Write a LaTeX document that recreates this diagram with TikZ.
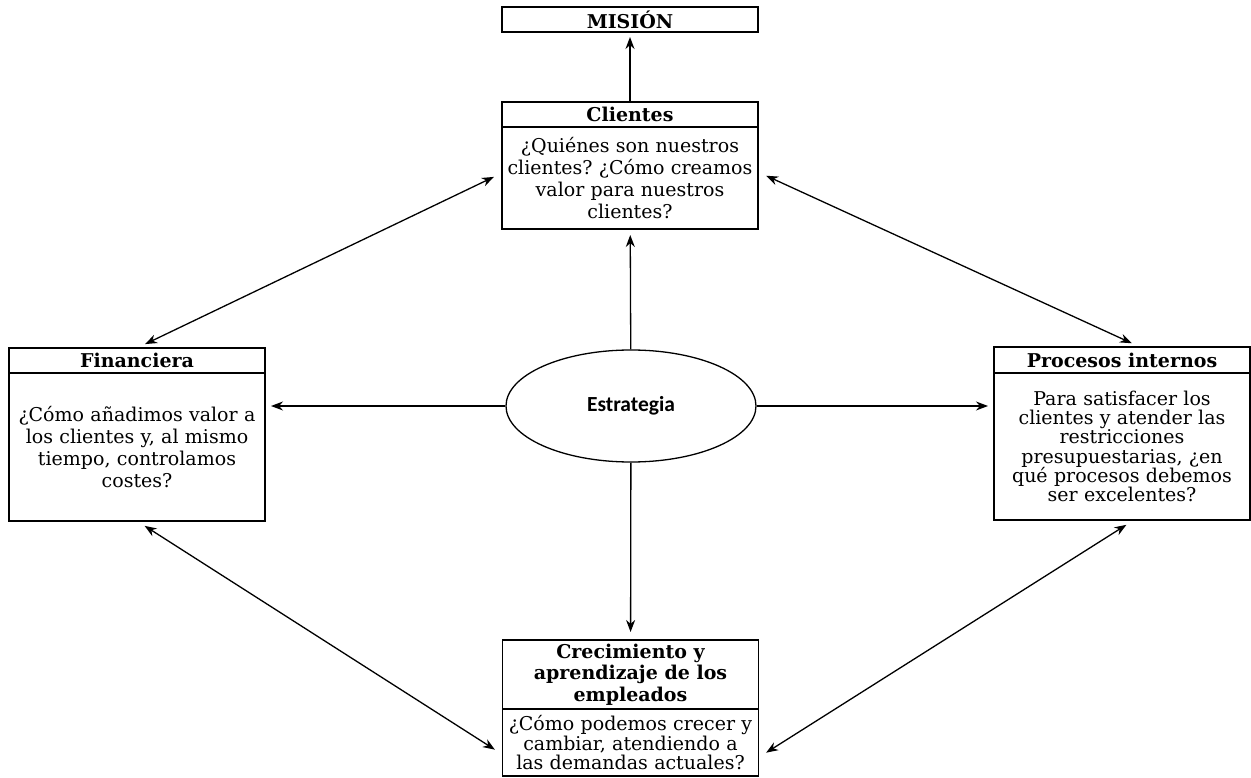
\documentclass[tikz,border=0pt]{standalone}
\usepackage{fontspec}
\setmainfont{DejaVu Serif}
\newfontfamily\calibri{Carlito}
\usetikzlibrary{positioning,shapes.geometric,arrows.meta}
\frenchspacing

\begin{document}
\begin{tikzpicture}[x=1pt, y=-1pt,
  tip/.tip={Stealth[length=12pt,width=9pt]},
  hdr/.style={draw, line width=1.4pt, minimum width=256pt, inner sep=0pt, outer sep=0pt, align=center, font=\fontsize{19}{21.7}\selectfont\bfseries},
  txt/.style={draw, line width=1.4pt, minimum width=256pt, text width=256pt, inner sep=0pt, outer sep=0pt, align=center, font=\fontsize{19}{21.7}\selectfont},
  link/.style={line width=1.3pt, -tip, shorten >=6pt},
  both/.style={line width=1.3pt, tip-tip, shorten >=9pt, shorten <=9pt}]
\useasboundingbox (0,0) rectangle (1251,778);

\node[hdr, minimum height=25pt] (mis) at (630,19.5) {MISIÓN};

\node[hdr, minimum height=25pt] (cli) at (630,114.5) {Clientes};
\node[txt, minimum height=102pt, below=0pt of cli] (clitxt) {¿Quiénes son nuestros\\clientes? ¿Cómo creamos\\valor para nuestros\\clientes?};

\node[hdr, minimum height=25pt] (fin) at (137,360.5) {Financiera};
\node[txt, minimum height=148pt, below=0pt of fin] (fintxt) {¿Cómo añadimos valor a\\los clientes y, al mismo\\tiempo, controlamos\\costes?};

\node[hdr, minimum height=26pt] (pro) at (1122,360) {Procesos internos};
\node[txt, minimum height=147pt, below=0pt of pro, font=\fontsize{19}{19.2}\selectfont] (protxt) {Para satisfacer los\\clientes y atender las\\restricciones\\presupuestarias, ¿en\\qué procesos debemos\\ser excelentes?};

\node[hdr, minimum height=69pt] (cre) at (630.5,674.5) {Crecimiento y\\aprendizaje de los\\empleados};
\node[txt, minimum height=67pt, below=0pt of cre, font=\fontsize{19}{18.5}\selectfont] (cretxt) {¿Cómo podemos crecer y\\cambiar, atendiendo a\\las demandas actuales?};

\node[ellipse, draw, line width=1.3pt, minimum width=250pt, minimum height=112pt, font=\calibri\bfseries\fontsize{21.5}{25}\selectfont] (est) at (631,406) {Estrategia};

\draw[link, shorten >=5pt] (cli) -- (mis);
\draw[link] (est) -- (clitxt);
\draw[link] (est.west) -- (est.west -| fintxt.east);
\draw[link] (est.east) -- (est.east -| protxt.west);
\draw[link, shorten >=8pt] (est) -- (cre);

\draw[both] ([yshift=5pt]clitxt.west) -- (fin.north);
\draw[both] ([yshift=6pt]clitxt.east) -- ([xshift=18pt]pro.north);
\draw[both] (fintxt.south) -- ([yshift=-12pt]cretxt.west);
\draw[both] ([xshift=12pt]protxt.south) -- ([yshift=-15pt]cretxt.east);
\end{tikzpicture}
\end{document}
